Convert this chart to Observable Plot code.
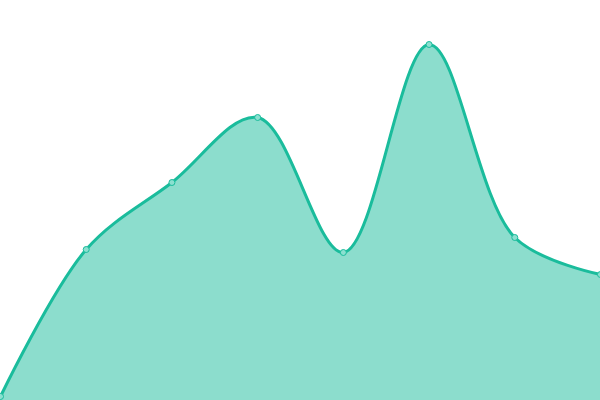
<!DOCTYPE html>
<html><head>
<script src="https://cdn.jsdelivr.net/npm/d3@7"></script>
<script src="https://cdn.jsdelivr.net/npm/@observablehq/plot@0.6"></script>
<style>body{margin:0;background:#fff}</style>
</head><body><div id="chart"></div>
<script>
const xs = [0, 1, 2, 3, 4, 5, 6, 7];
const values = [4, 151, 218, 283, 148, 356, 163, 126];
const data = xs.map((x, i) => ({x, y: values[i]}));
const chart = Plot.plot({
  width: 600, height: 400,
  margin: 0,
  x: {domain: [0, 7], axis: null},
  y: {domain: [0, 400], axis: null},
  marks: [
    Plot.areaY(data, {x: "x", y: "y", curve: "catmull-rom", fill: "#1abc9c", fillOpacity: 0.5}),
    Plot.lineY(data, {x: "x", y: "y", curve: "catmull-rom", stroke: "#1abc9c", strokeWidth: 3}),
    Plot.dot(data, {x: "x", y: "y", r: 3, fill: "#8be0d0", stroke: "#1abc9c", strokeWidth: 1})
  ]
});
document.getElementById("chart").appendChild(chart);
</script></body></html>
